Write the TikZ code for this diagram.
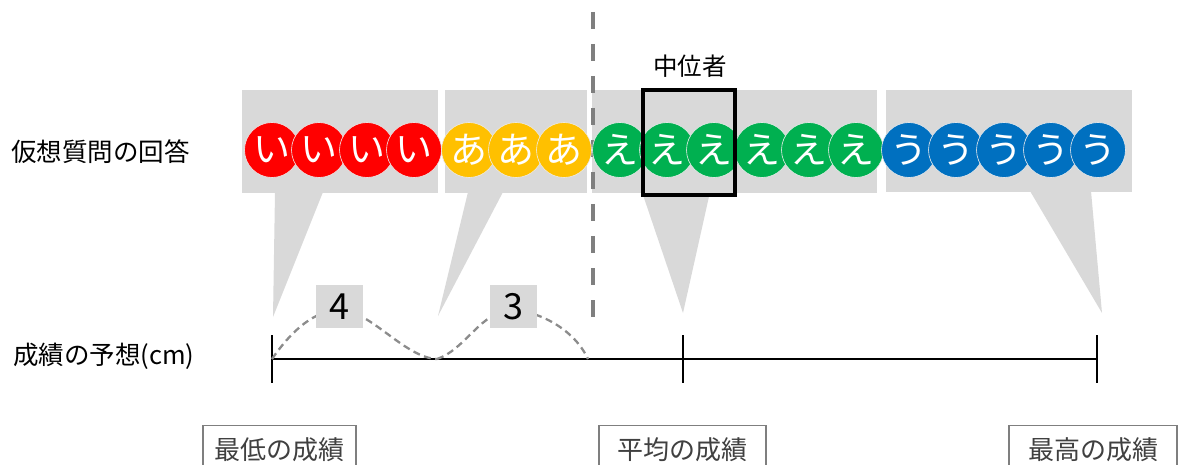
\documentclass[tikz,border=0pt]{standalone}
\usepackage{fontspec}
\setmainfont{Noto Sans CJK JP}
\usetikzlibrary{calc}
\definecolor{callgray}{HTML}{D9D9D9}
\definecolor{dashgray}{HTML}{7F7F7F}
\definecolor{curvegray}{HTML}{8C8C8C}
\definecolor{cred}{HTML}{FF0000}
\definecolor{cyellow}{HTML}{FFC000}
\definecolor{cgreen}{HTML}{00B050}
\definecolor{cblue}{HTML}{0070C0}
\definecolor{lbltext}{HTML}{404040}
\definecolor{lblborder}{HTML}{7F7F7F}
\tikzset{
  ball/.style={circle, minimum size=55pt, inner sep=0pt, draw=white!85!gray, line width=0.6pt,
    text=white, font=\fontsize{37}{37}\selectfont},
  numbox/.style={fill=callgray, minimum width=47pt, minimum height=43pt, inner sep=0pt,
    font=\fontsize{36}{36}\selectfont},
  lbl/.style={draw=lblborder, line width=1.2pt, minimum height=50pt, anchor=north, inner sep=0pt,
    text=lbltext, font=\fontsize{26}{26}\selectfont},
  sidetext/.style={anchor=west, inner sep=0pt, font=\fontsize{25.5}{25.5}\selectfont},
  callout/.style={fill=callgray},
  tick/.style={line width=2pt},
  bump/.style={draw=curvegray, line width=2.3pt, dash pattern=on 7pt off 4.5pt}
}
\begin{document}
\begin{tikzpicture}[x=1pt,y=-1pt]
\useasboundingbox (0,0) rectangle (1178,465);
% callouts
\fill[callout] (242,90) rectangle (438,193);
\fill[callout] (275,192) -- (323,192) -- (273,317) -- cycle;
\fill[callout] (445,90) rectangle (587,193);
\fill[callout] (468,192) -- (503,192) -- (438,316) -- cycle;
\fill[callout] (592,90) rectangle (877,193);
\fill[callout] (642,192) -- (710,192) -- (683,313) -- cycle;
\fill[callout] (886,90) rectangle (1132,192);
\fill[callout] (1030,191) -- (1091,191) -- (1102,313) -- cycle;
% dashed divider
\coordinate (dtop) at (593,12);
\coordinate (dbot) at (593,317);
\draw[dashgray, line width=3.5pt, dash pattern=on 17pt off 15pt] (dtop) -- (dbot);
% balls
\foreach \i/\x in {1/272,2/319,3/367,4/414}
  \node[ball, fill=cred] (r\i) at (\x,150) {い};
\foreach \i/\x in {1/469,2/516,3/564}
  \node[ball, fill=cyellow] (y\i) at (\x,150) {あ};
\foreach \i/\x in {1/620,2/667,3/714,4/762,5/809,6/856}
  \node[ball, fill=cgreen] (g\i) at (\x,150) {え};
\foreach \i/\x in {1/909,2/956,3/1004,4/1051,5/1098}
  \node[ball, fill=cblue] (b\i) at (\x,150) {う};
% median box
\node[draw=black, line width=4pt, minimum width=92pt, minimum height=105pt, inner sep=0pt] (med) at (689,142.5) {};
\node[font=\fontsize{24.5}{24.5}\selectfont, inner sep=0pt] (medlabel) at (690,66) {中位者};
% side labels
\node[sidetext] (q) at (11,152) {仮想質問の回答};
\node[sidetext] (p) at (13,356) {成績の予想(cm)};
% axis
\coordinate (a0) at (272,359);
\coordinate (a1) at (683,359);
\coordinate (a2) at (1097,359);
\coordinate (m1) at (437,359);
\coordinate (m2) at (588,359);
\draw[tick] (a0) -- (a2);
\draw[tick] ($(a0)+(0,-24)$) -- ($(a0)+(0,24)$);
\draw[tick] ($(a1)+(0,-24)$) -- ($(a1)+(0,24)$);
\draw[tick] ($(a2)+(0,-24)$) -- ($(a2)+(0,24)$);
% bumps
\coordinate (p1) at (340,310);
\coordinate (p2) at (512,310);
\draw[bump] (a0) .. controls (292,330) and (315,310) .. (p1) .. controls (370,310) and (405,358) .. (m1);
\draw[bump] (m1) .. controls (465,350) and (482,310) .. (p2) .. controls (532,310) and (572,325) .. (m2);
\node[numbox] (n4) at (339.5,306.5) {4};
\node[numbox] (n3) at (513,306.5) {3};
% bottom labels
\node[lbl, minimum width=153pt] (low) at (279.5,424.5) {最低の成績};
\node[lbl, minimum width=167pt] (mid) at (682.5,424.5) {平均の成績};
\node[lbl, minimum width=168pt] (high) at (1093,424.5) {最高の成績};
\end{tikzpicture}
\end{document}
